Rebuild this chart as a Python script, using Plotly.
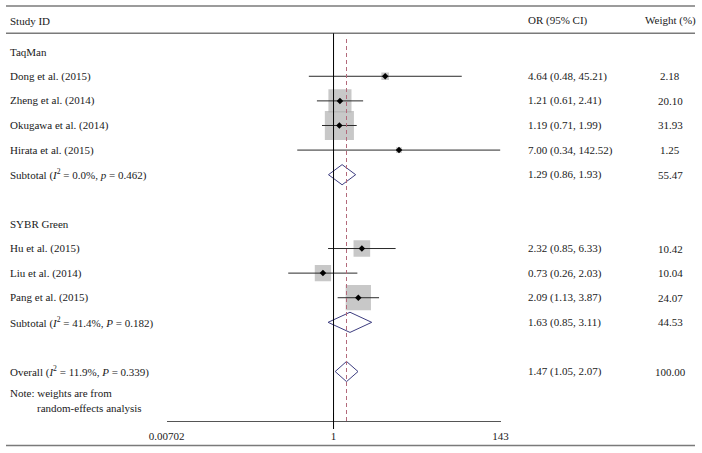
import math
import plotly.graph_objects as go

# ---------------- data ----------------
group_labels = ["TaqMan", "SYBR Green"]
group_rows = [1, 8]

study_labels = ["Dong et al. (2015)", "Zheng et al. (2014)", "Okugawa et al. (2014)",
                "Hirata et al. (2015)", "Hu et al. (2015)", "Liu et al. (2014)",
                "Pang et al. (2015)"]
study_rows = [2, 3, 4, 5, 9, 10, 11]
study_or = [4.64, 1.21, 1.19, 7.00, 2.32, 0.73, 2.09]
study_lo = [0.48, 0.61, 0.71, 0.34, 0.85, 0.26, 1.13]
study_hi = [45.21, 2.41, 1.99, 142.52, 6.33, 2.03, 3.87]
study_wt = [2.18, 20.10, 31.93, 1.25, 10.42, 10.04, 24.07]

pooled_labels = ["Subtotal (<i>I</i><sup>2</sup> = 0.0%, <i>p</i> = 0.462)",
                 "Subtotal (<i>I</i><sup>2</sup> = 41.4%, <i>P</i> = 0.182)",
                 "Overall (<i>I</i><sup>2</sup> = 11.9%, <i>P</i> = 0.339)"]
pooled_rows = [6, 12, 14]
pooled_or = [1.29, 1.63, 1.47]
pooled_lo = [0.86, 0.85, 1.05]
pooled_hi = [1.93, 3.11, 2.07]
pooled_wt = [55.47, 44.53, 100.00]

x_ticks = [0.00702, 1, 143]
x_ticktext = ["0.00702", "1", "143"]

overall_or = pooled_or[-1]

# ---------------- layout constants ----------------
W, H = 702, 453
FONT = "Liberation Serif"
TXT = "#1a1a1a"
row_top, row_bottom = -1.10, 16.01
axis_px = 421
box_scale = 5.15
diamond_half = 0.41

fig = go.Figure()

# weight boxes
fig.add_trace(go.Scatter(
    x=study_or, y=study_rows, mode="markers",
    marker=dict(symbol="square", color="#b0b0b0",
                size=[box_scale * math.sqrt(w) for w in study_wt], line=dict(width=0)),
    hoverinfo="skip"))

# CI lines
cx, cy = [], []
for lo, hi, r in zip(study_lo, study_hi, study_rows):
    cx += [lo, hi, None]
    cy += [r, r, None]
fig.add_trace(go.Scatter(x=cx, y=cy, mode="lines",
                         line=dict(color="#2a2a2a", width=1), hoverinfo="skip"))

# point estimates
fig.add_trace(go.Scatter(x=study_or, y=study_rows, mode="markers",
                         marker=dict(symbol="diamond", color="black", size=5),
                         hoverinfo="skip"))

# pooled diamonds
dx, dy = [], []
for est, lo, hi, r in zip(pooled_or, pooled_lo, pooled_hi, pooled_rows):
    dx += [lo, est, hi, est, lo, None]
    dy += [r, r - diamond_half, r, r + diamond_half, r, None]
fig.add_trace(go.Scatter(x=dx, y=dy, mode="lines",
                         line=dict(color="#3d3d80", width=1), hoverinfo="skip"))

# ---------------- annotations ----------------
ann = []
def txt(x, y, s, anchor="left", yref="y"):
    ann.append(dict(x=x, y=y, xref="paper", yref=yref, text=s, showarrow=False,
                    xanchor=anchor, yanchor="middle",
                    font=dict(family=FONT, size=11, color=TXT)))

LX = 8 / W
ORX = 525.5 / W
WX = 670 / W

txt(LX, -0.26, "Study ID")
txt(ORX, -0.26, "OR (95% CI)")
txt(WX, -0.26, "Weight (%)", anchor="center")

for lab, r in zip(group_labels, group_rows):
    txt(LX, r, lab)

for lab, r, o, lo, hi, w in zip(study_labels, study_rows, study_or, study_lo, study_hi, study_wt):
    txt(LX, r, lab)
    txt(ORX, r, f"{o:.2f} ({lo:.2f}, {hi:.2f})")
    txt(WX, r, f"{w:.2f}", anchor="center")

for lab, r, o, lo, hi, w in zip(pooled_labels, pooled_rows, pooled_or, pooled_lo, pooled_hi, pooled_wt):
    txt(LX, r, lab)
    txt(ORX, r, f"{o:.2f} ({lo:.2f}, {hi:.2f})")
    txt(WX, r, f"{w:.2f}", anchor="center")

txt(LX, 14.87, "Note: weights are from")
txt(35 / W, 15.48, "random-effects analysis")

# ---------------- shapes ----------------
def py(px):
    return 1 - px / H

shapes = []
for ypx in [6, 33.3, 445.5]:
    shapes.append(dict(type="line", xref="paper", yref="paper", x0=6 / W, x1=695 / W,
                       y0=py(ypx), y1=py(ypx), line=dict(color="#7a7a7a", width=1.5)))
shapes.append(dict(type="line", xref="x", yref="paper", x0=1, x1=1,
                   y0=py(429), y1=py(33.3), line=dict(color="black", width=1)))
shapes.append(dict(type="line", xref="x", yref="paper", x0=overall_or, x1=overall_or,
                   y0=py(axis_px), y1=py(36), line=dict(color="#b36a7b", width=1, dash="4px,3px")))

fig.update_layout(
    width=W, height=H, margin=dict(l=0, r=0, t=0, b=0, pad=0, autoexpand=False),
    paper_bgcolor="white", plot_bgcolor="white", showlegend=False,
    annotations=ann, shapes=shapes,
    xaxis=dict(type="log", range=[math.log10(0.00702), math.log10(143)],
               domain=[166.7 / W, 500.5 / W], showgrid=False, zeroline=False,
               showline=True, linecolor="#555", linewidth=1,
               ticks="inside", ticklen=8, tickcolor="#555", tickwidth=1,
               tickvals=x_ticks, ticktext=x_ticktext, automargin=False,
               ticklabelstandoff=5,
               tickfont=dict(family=FONT, size=11, color=TXT), fixedrange=True),
    yaxis=dict(domain=[1 - axis_px / H, 1], range=[row_bottom, row_top], visible=False,
               showgrid=False, zeroline=False, fixedrange=True, automargin=False),
)

fig.write_html("out.html", config={"displayModeBar": False, "staticPlot": True},
               post_script="document.body.style.margin='0';")
